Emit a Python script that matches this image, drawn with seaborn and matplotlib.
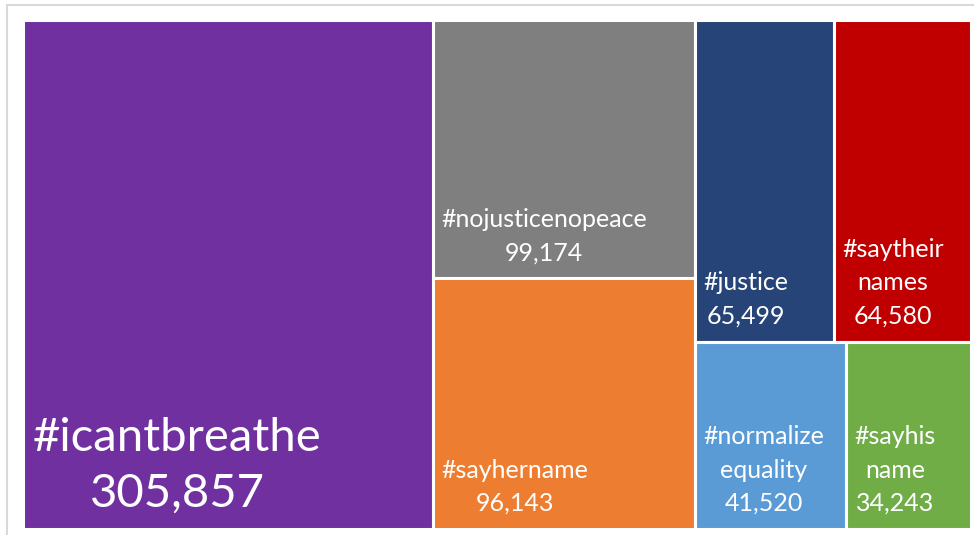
import matplotlib
matplotlib.use("Agg")
import matplotlib.pyplot as plt
import seaborn as sns

# Hashtag counts
tags = ["#icantbreathe", "#nojusticenopeace", "#sayhername", "#justice",
        "#saytheir\nnames", "#normalize\nequality", "#sayhis\nname"]
counts = [305857, 99174, 96143, 65499, 64580, 41520, 34243]
colors = ["#7030A0", "#7F7F7F", "#ED7D31", "#264478",
          "#C00000", "#5B9BD5", "#70AD47"]

sns.set_theme(style="white")
plt.rcParams['font.family'] = ['Lato', 'DejaVu Sans']

W, H = 948.0, 509.0
total = sum(counts)

# layout like Excel: col 1 = biggest, col 2 = next two stacked, col 3 = 2x2 rows
columns = [[[0]], [[1], [2]], [[3, 4], [5, 6]]]
rects = {}
x0 = 0.0
for col in columns:
    col_sum = sum(counts[i] for row in col for i in row)
    cw = col_sum / total * W
    top = H
    for row in col:
        row_sum = sum(counts[i] for i in row)
        rh = row_sum / col_sum * H
        xx = x0
        for i in row:
            w = counts[i] / row_sum * cw
            rects[i] = (xx, top - rh, w, rh)
            xx += w
        top -= rh
    x0 += cw

fig = plt.figure(figsize=(9.74, 5.35), dpi=100)
ax = fig.add_axes([23 / 974, 6 / 535, 948 / 974, 509 / 535])

for i in range(len(counts)):
    x, y, w, h = rects[i]
    ax.bar(x, h, width=w, bottom=y, align="edge", color=colors[i],
           edgecolor="white", linewidth=2.2)
    if i == 0:
        size, pad_x, ls = 34, 10, 1.4
    else:
        size, pad_x, ls = 18, 8, 1.55
    ax.text(x + pad_x, y + 14, f"{tags[i]}\n{counts[i]:,}", ha="left", va="bottom",
            multialignment="center", color="white", fontsize=size,
            linespacing=ls)

ax.set_xlim(0, W)
ax.set_ylim(0, H)
ax.axis("off")

# light frame around the chart area
fig.add_artist(plt.Line2D([7 / 974, 1], [1 - 5 / 535, 1 - 5 / 535], color="#d9d9d9", lw=1.5))
fig.add_artist(plt.Line2D([7 / 974, 7 / 974], [0, 1 - 5 / 535], color="#d9d9d9", lw=1.5))

fig.savefig("out.png", dpi=100)
